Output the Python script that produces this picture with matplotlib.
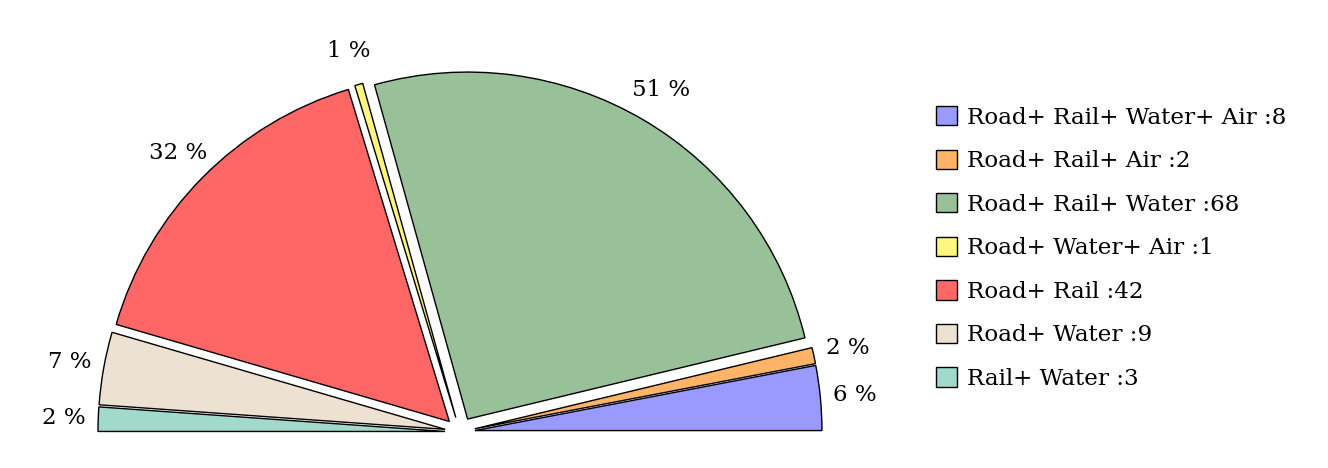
import numpy as np
import matplotlib.pyplot as plt
from matplotlib.patches import Patch

plt.rcParams['font.family'] = ['DejaVu Serif']

categories = ['Road+ Rail+ Water+ Air', 'Road+ Rail+ Air', 'Road+ Rail+ Water',
              'Road+ Water+ Air', 'Road+ Rail', 'Road+ Water', 'Rail+ Water']
counts = [8, 2, 68, 1, 42, 9, 3]
colors = ['#9999ff', '#ffb366', '#99c199', '#fff580', '#ff6666', '#ede1d1', '#a1d9ca']

total = sum(counts)
fracs = np.array(counts) / (2.0 * total)   # half pie
pct_labels = ['%d %%' % round(100.0 * c / total) for c in counts]

fig = plt.figure(figsize=(13.28, 4.68), dpi=100)
ax = fig.add_axes([0, 0, 1, 1])

r_px = 347.0
cx, cy = 460.0, 36.0
wedges, texts = ax.pie(fracs, normalize=False, startangle=0, counterclock=True,
                       colors=colors, explode=[15 / r_px] * len(counts),
                       labels=pct_labels, labeldistance=1.10,
                       wedgeprops=dict(edgecolor='black', linewidth=1.0),
                       textprops=dict(fontsize=16.5))
for t in texts:
    t.set_ha('center')
    t.set_va('center')

ax.set_xlim(-cx / r_px, (1328 - cx) / r_px)
ax.set_ylim(-cy / r_px, (468 - cy) / r_px)
ax.set_aspect('auto')
ax.axis('off')

handles = [Patch(facecolor=c, edgecolor='black', linewidth=1.0) for c in colors]
leg_labels = ['%s :%d' % (n, c) for n, c in zip(categories, counts)]
fig.legend(handles, leg_labels, loc='upper left', bbox_to_anchor=(936 / 1328, 1 - 106 / 468),
           frameon=False, fontsize=16.6, borderpad=0, handlelength=0.92, handleheight=0.92,
           handletextpad=0.42, labelspacing=0.905, borderaxespad=0)

fig.savefig('out.png', dpi=100)
